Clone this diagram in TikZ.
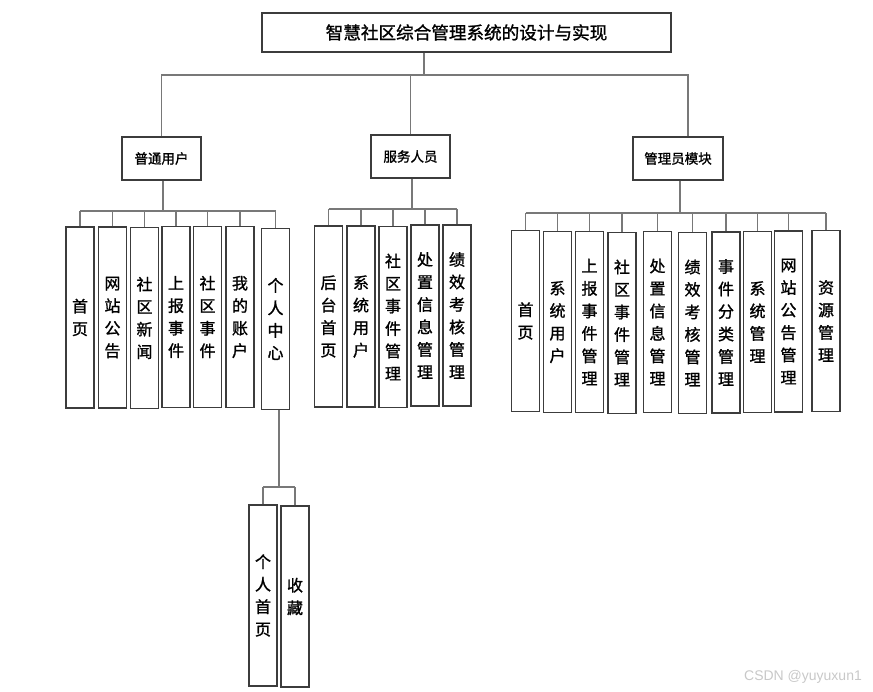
\documentclass[tikz,border=0pt]{standalone}
\usepackage{fontspec}
\newfontfamily\cjk[FakeBold=1.3]{Noto Sans CJK SC}
\newfontfamily\wmfont{Liberation Sans}
\definecolor{boxc}{RGB}{60,60,60}
\definecolor{linec}{RGB}{120,120,120}
\definecolor{wmc}{RGB}{200,200,200}
\begin{document}
\begin{tikzpicture}[x=1pt,y=-1pt,
  box/.style={draw=boxc, line width=1.1pt, fill=white, inner sep=0pt, align=center},
  titlebox/.style={box, minimum width=409pt, minimum height=39pt, font=\cjk\fontsize{17.6}{20}\selectfont},
  midbox/.style={box, minimum height=43pt, font=\cjk\fontsize{13.5}{16}\selectfont},
  leaf/.style={box, minimum width=28pt, minimum height=181pt, font=\cjk\fontsize{16}{22.5}\selectfont},
  conn/.style={draw=linec, line width=1.2pt}]
\useasboundingbox (0,0) rectangle (873,691);

% title and level 2
\node[titlebox] (title) at (466.5,32.5) {智慧社区综合管理系统的设计与实现};
\node[midbox, minimum width=79pt] (u) at (161.5,158.5) {普通用户};
\node[midbox, minimum width=79pt] (s) at (410.5,156.5) {服务人员};
\node[midbox, minimum width=90pt] (a) at (678,158.5) {管理员模块};

% group 1
\node[leaf] (u1) at (80,317.5) {首\\页};
\node[leaf] (u2) at (112.5,317.5) {网\\站\\公\\告};
\node[leaf] (u3) at (144.5,318) {社\\区\\新\\闻};
\node[leaf] (u4) at (176,317) {上\\报\\事\\件};
\node[leaf] (u5) at (207.5,317) {社\\区\\事\\件};
\node[leaf] (u6) at (240,317) {我\\的\\账\\户};
\node[leaf] (u7) at (275.5,319) {个\\人\\中\\心};

% group 2
\node[leaf] (s1) at (328.5,316.5) {后\\台\\首\\页};
\node[leaf] (s2) at (361,316.5) {系\\统\\用\\户};
\node[leaf] (s3) at (393,317) {社\\区\\事\\件\\管\\理};
\node[leaf] (s4) at (425,315.5) {处\\置\\信\\息\\管\\理};
\node[leaf] (s5) at (457,315.5) {绩\\效\\考\\核\\管\\理};

% group 3
\node[leaf] (a1) at (525.5,321) {首\\页};
\node[leaf] (a2) at (557.5,322) {系\\统\\用\\户};
\node[leaf] (a3) at (589.5,322) {上\\报\\事\\件\\管\\理};
\node[leaf] (a4) at (622,323) {社\\区\\事\\件\\管\\理};
\node[leaf] (a5) at (657.5,322) {处\\置\\信\\息\\管\\理};
\node[leaf] (a6) at (692.5,323) {绩\\效\\考\\核\\管\\理};
\node[leaf] (a7) at (726,322.5) {事\\件\\分\\类\\管\\理};
\node[leaf] (a8) at (757.5,322) {系\\统\\管\\理};
\node[leaf] (a9) at (788.5,321.5) {网\\站\\公\\告\\管\\理};
\node[leaf] (a10) at (826,321) {资\\源\\管\\理};

% group 4
\node[leaf] (p1) at (263,595.5) {个\\人\\首\\页};
\node[leaf] (p2) at (295,596.5) {收\\藏};

% bus coordinates
\coordinate (b0) at (424,75);
\coordinate (b1) at (163,211);
\coordinate (b2) at (412,209);
\coordinate (b3) at (680,213);
\coordinate (b4) at (279,487);

% level 1 -> 2
\draw[conn] (b0 |- title.south) -- (b0);
\draw[conn] (u.north) |- (b0);
\draw[conn] (s.north) -- (s.north |- b0);
\draw[conn] ([xshift=10pt]a.north) |- (b0);

% group 1
\draw[conn] (b1 |- u.south) -- (b1);
\draw[conn] (u1.north |- b1) -- (u7.north |- b1);
\foreach \i in {1,...,7} \draw[conn] (u\i.north) -- (u\i.north |- b1);

% group 2
\draw[conn] (b2 |- s.south) -- (b2);
\draw[conn] (s1.north |- b2) -- (s5.north |- b2);
\foreach \i in {1,...,5} \draw[conn] (s\i.north) -- (s\i.north |- b2);

% group 3
\draw[conn] (b3 |- a.south) -- (b3);
\draw[conn] (a1.north |- b3) -- (a10.north |- b3);
\foreach \i in {1,...,10} \draw[conn] (a\i.north) -- (a\i.north |- b3);

% group 4
\draw[conn] (b4 |- u7.south) -- (b4);
\draw[conn] (p1.north |- b4) -- (p2.north |- b4);
\foreach \i in {1,2} \draw[conn] (p\i.north) -- (p\i.north |- b4);

% watermark
\node[font=\wmfont\fontsize{14}{16}\selectfont, text=wmc, inner sep=0pt] (wm) at (803,677) {CSDN @yuyuxun1};
\end{tikzpicture}
\end{document}
